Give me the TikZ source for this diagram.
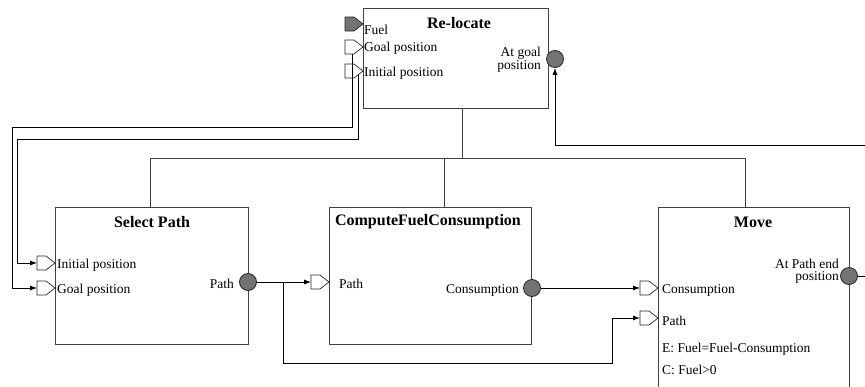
\documentclass[tikz,border=0pt]{standalone}
\usepackage{fontspec}
\setmainfont{Liberation Serif}
\usetikzlibrary{arrows.meta,calc}
\tikzset{
 box/.style={draw=black!75, line width=1pt, fill=white, anchor=north west, inner sep=0},
 ttl/.style={font=\fontsize{16}{18}\selectfont\bfseries, inner sep=0},
 lbl/.style={font=\fontsize{13.5}{14}\selectfont, inner sep=0},
 lbltwo/.style={font=\fontsize{13.5}{12.5}\selectfont, inner sep=0, align=right, anchor=east},
 conn/.style={draw=black, line width=0.8pt},
 arr/.style={-{Latex[length=7pt,width=5pt]}},
 tree/.style={draw=black!75, line width=1pt},
 outp/.style={circle, draw=black!85, fill=black!55, minimum size=17pt, inner sep=0, line width=0.8pt},
}
\newcommand\inport[3]{%
 \coordinate (#1) at (#2);
 \draw[black!85, line width=0.7pt, fill=#3] (#1) -- ++(-9,-7) -- ++(-9,0) -- ++(0,14) -- ++(9,0) -- cycle;
 \coordinate (#1T) at ($(#1)+(-18,0)$);
}
\begin{document}
\begin{tikzpicture}[x=1pt,y=-1pt]
\useasboundingbox (0,0) rectangle (865,386);
\clip (0,0) rectangle (865,386);
% boxes
\node[box, minimum width=185pt, minimum height=100pt] (reloc) at (363,8) {};
\node[box, minimum width=193pt, minimum height=137pt] (sp) at (55,207) {};
\node[box, minimum width=202pt, minimum height=137pt] (cfc) at (329,207) {};
\node[box, minimum width=191pt, minimum height=200pt] (mv) at (658,207) {};
% titles
\node[ttl] (relocT) at (459,23) {Re-locate};
\node[ttl] (spT) at (152,222) {Select Path};
\node[ttl] (cfcT) at (428,222) {ComputeFuelConsumption};
\node[ttl] (mvT) at (753,222) {Move};
% tree
\draw[tree] (reloc.south -| 462,0) -- (462,158) coordinate (tj);
\draw[tree] (sp.north -| 150,0) -- (150,158) -- (745,158) -- (mv.north -| 745,0);
\draw[tree] (cfc.north -| 444,0) -- (444,158);
% ports
\inport{rFuel}{363,24}{black!55}
\inport{rGoal}{363,47}{white}
\inport{rInit}{363,71}{white}
\inport{spInit}{55,263}{white}
\inport{spGoal}{55,288}{white}
\inport{cfcPath}{329,282}{white}
\inport{mvCons}{658,288}{white}
\inport{mvPath}{658,318}{white}
% labels
\node[lbl, anchor=west] (lFuel) at (364,30) {Fuel};
\node[lbl, anchor=west] (lGoal) at (364,48) {Goal position};
\node[lbl, anchor=west] (lInit) at (364,73) {Initial position};
\node[lbltwo] (lAtGoal) at (541,60) {At goal\\position};
\node[lbl, anchor=west] (lspInit) at (57,265) {Initial position};
\node[lbl, anchor=west] (lspGoal) at (57,290) {Goal position};
\node[lbl, anchor=east] (lspPath) at (234,284) {Path};
\node[lbl, anchor=west] (lcfcPath) at (339,284) {Path};
\node[lbl, anchor=east] (lcfcCons) at (519,290) {Consumption};
\node[lbl, anchor=west] (lmvCons) at (662,290) {Consumption};
\node[lbl, anchor=west] (lmvPath) at (662,321) {Path};
\node[lbl, anchor=west] (lmvE) at (662,349) {E: Fuel=Fuel-Consumption};
\node[lbl, anchor=west] (lmvC) at (662,370) {C: Fuel>0};
\node[lbltwo] (lmvEnd) at (839,271) {At Path end\\position};
% output circles
\node[outp] (rAt) at (555,59) {};
\node[outp] (spPath) at (248,282) {};
\node[outp] (cfcCons) at (532,288) {};
\node[outp] (mvEnd) at (849,276) {};
% connectors
\coordinate (rIn) at (865,145);
\coordinate (mvOut) at (865,276);
\coordinate (j1) at (283,282);
\draw[conn,arr] (rIn) -| (rAt.south);
\draw[conn] (mvEnd.east) -- (mvOut);
\draw[conn,arr] ($(rGoalT)+(7,7)$) |- (12,127) |- (spGoalT);
\draw[conn,arr] ($(rInitT)+(13,4)$) |- (17,139) |- (spInitT);
\draw[conn,arr] (spPath.east) -- (cfcPathT);
\draw[conn,arr] (j1) |- (612,363) |- (mvPathT);
\draw[conn,arr] (cfcCons.east) -- (mvConsT);
\end{tikzpicture}
\end{document}
